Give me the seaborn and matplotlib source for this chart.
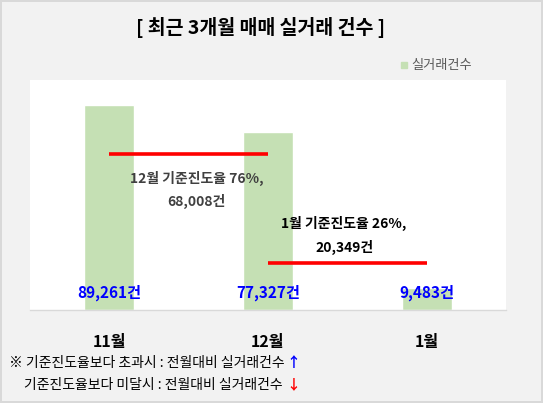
import matplotlib
matplotlib.use("Agg")
import matplotlib.pyplot as plt
import seaborn as sns
import pandas as pd

# data
months = ["11월", "12월", "1월"]
deals = [89261, 77327, 9483]
deal_labels = ["89,261건", "77,327건", "9,483건"]

# progress-rate reference lines: (from month idx, to month idx, value)
ref_lines = [(0, 1, 68008), (1, 2, 20349)]
ref_texts = [("12월 기준진도율 76%,", "68,008건"), ("1월 기준진도율 26%,", "20,349건")]

sns.set_theme(style="white")
plt.rcParams['font.family'] = ['Noto Sans CJK KR', 'DejaVu Sans']

df = pd.DataFrame({'month': months, 'deals': deals})

fig = plt.figure(figsize=(5.43, 4.03), dpi=100)
fig.patch.set_facecolor('#f2f2f2')
fig.patch.set_edgecolor('#d9d9d9')
fig.patch.set_linewidth(1.5)

ax = fig.add_axes([30 / 543, 93 / 403, 476 / 543, 230 / 403])
ax.set_facecolor('white')
sns.barplot(data=df, x='month', y='deals', color='#c5e0b4', width=0.315,
            saturation=1, ax=ax)

ax.set_xlim(-0.5, 2.5)
ax.set_ylim(0, 100000)
ax.set_yticks([])
ax.set_xlabel('')
ax.set_ylabel('')
for s in ['top', 'left', 'right']:
    ax.spines[s].set_visible(False)
ax.spines['bottom'].set_color('#d9d9d9')
ax.spines['bottom'].set_linewidth(1)
ax.tick_params(axis='x', length=0, pad=17)
for lbl in ax.get_xticklabels():
    lbl.set_fontsize(11.5)
    lbl.set_fontweight('bold')
    lbl.set_color('black')

# value labels inside the bars
for i, lab in enumerate(deal_labels):
    ax.text(i, 7500, lab, ha='center', va='center', color='#0000ff',
            fontsize=11, fontweight='bold')

# red reference lines
for x0, x1, v in ref_lines:
    ax.plot([x0, x1], [v, v], color='#ff0000', lw=2.6, solid_capstyle='butt')

# reference notes
ax.text(0.55, 57000, ref_texts[0][0], ha='center', va='center', color='#404040',
        fontsize=10, fontweight='bold')
ax.text(0.55, 47000, ref_texts[0][1], ha='center', va='center', color='#404040',
        fontsize=10, fontweight='bold')
ax.text(1.48, 37800, ref_texts[1][0], ha='center', va='center', color='black',
        fontsize=10, fontweight='bold')
ax.text(1.48, 27400, ref_texts[1][1], ha='center', va='center', color='black',
        fontsize=10, fontweight='bold')

# title
fig.text(261 / 543, 1 - 28 / 403, "[ 최근 3개월 매매 실거래 건수 ]", ha='center',
         va='center', fontsize=14, fontweight='bold', color='black')

# legend
fig.patches.append(plt.Rectangle((401 / 543, 1 - 68 / 403), 6 / 543, 6 / 403,
                                 transform=fig.transFigure, color='#c5e0b4'))
fig.text(411 / 543, 1 - 65 / 403, "실거래건수", ha='left', va='center',
         fontsize=9.5, color='#595959')

# footnotes
fig.text(9 / 543, 1 - 363 / 403, "※ 기준진도율보다 초과시 : 전월대비 실거래건수",
         ha='left', va='center', fontsize=10, fontweight='medium', color='black')
fig.text(24 / 543, 1 - 385 / 403, "기준진도율보다 미달시 : 전월대비 실거래건수",
         ha='left', va='center', fontsize=10, fontweight='medium', color='black')
fig.text(286 / 543, 1 - 363 / 403, "↑", ha='left', va='center', fontsize=10,
         fontweight='bold', color='#0000ff')
fig.text(286 / 543, 1 - 385 / 403, "↓", ha='left', va='center', fontsize=10,
         fontweight='bold', color='#ff0000')

fig.savefig('out.png', dpi=100, facecolor=fig.get_facecolor(),
            edgecolor=fig.get_edgecolor())
